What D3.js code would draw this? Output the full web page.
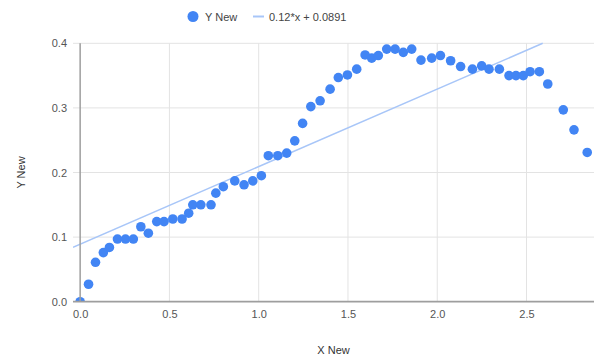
<!DOCTYPE html>
<html>
<head>
<meta charset="utf-8">
<script src="https://cdn.jsdelivr.net/npm/d3@7"></script>
<style>
  html, body { margin: 0; padding: 0; background: #fff; }
  svg { display: block; font-family: "Liberation Sans", Arial, sans-serif; }
</style>
</head>
<body>
<svg id="chart" width="596" height="358"></svg>
<script>
const xValues = [0, 0.047, 0.086, 0.13, 0.164, 0.209, 0.254, 0.298, 0.34, 0.382,
  0.429, 0.47, 0.519, 0.571, 0.608, 0.631, 0.676, 0.733, 0.76, 0.802,
  0.866, 0.918, 0.967, 1.015, 1.054, 1.107, 1.157, 1.202, 1.246, 1.292,
  1.344, 1.4, 1.446, 1.497, 1.549, 1.596, 1.633, 1.67, 1.717, 1.764,
  1.81, 1.857, 1.909, 1.969, 2.018, 2.075, 2.131, 2.197, 2.249, 2.29,
  2.348, 2.402, 2.441, 2.482, 2.52, 2.572, 2.619, 2.706, 2.766, 2.84];
const yValues = [0, 0.027, 0.061, 0.076, 0.084, 0.097, 0.097, 0.097, 0.116, 0.106,
  0.124, 0.124, 0.128, 0.128, 0.137, 0.150, 0.150, 0.150, 0.168, 0.178,
  0.187, 0.181, 0.187, 0.195, 0.226, 0.226, 0.230, 0.249, 0.276, 0.302,
  0.311, 0.329, 0.347, 0.351, 0.360, 0.382, 0.377, 0.381, 0.391, 0.391,
  0.386, 0.391, 0.374, 0.377, 0.381, 0.373, 0.364, 0.360, 0.365, 0.360,
  0.360, 0.350, 0.350, 0.350, 0.356, 0.356, 0.337, 0.297, 0.266, 0.231];
const xTicks = [0, 0.5, 1.0, 1.5, 2.0, 2.5];
const yTicks = [0, 0.1, 0.2, 0.3, 0.4];
const trendSlope = 0.12;
const trendIntercept = 0.0891;
const seriesName = "Y New";
const trendLabel = "0.12*x + 0.0891";
const xTitle = "X New";
const yTitle = "Y New";

const svg = d3.select("#chart");
const pLeft = 73, pRight = 594, pTop = 43.3, pBottom = 301.7;
const x = d3.scaleLinear().domain([-0.04, 2.878]).range([pLeft, pRight]);
const y = d3.scaleLinear().domain([0, 0.4]).range([pBottom, pTop]);
const blue = "#4285f4";

svg.append("defs").append("clipPath").attr("id", "clip")
  .append("rect").attr("x", pLeft).attr("y", pTop - 8).attr("width", pRight - pLeft + 2).attr("height", pBottom - pTop + 8);

// gridlines
const g = svg.append("g");
g.selectAll("line.hg").data(yTicks.filter(d => d !== 0)).enter().append("line")
  .attr("x1", pLeft).attr("x2", pRight)
  .attr("y1", d => y(d)).attr("y2", d => y(d))
  .attr("stroke", "#e3e3e3").attr("stroke-width", 1);
g.selectAll("line.vg").data(xTicks.filter(d => d !== 0)).enter().append("line")
  .attr("y1", pTop).attr("y2", pBottom)
  .attr("x1", d => x(d)).attr("x2", d => x(d))
  .attr("stroke", "#e3e3e3").attr("stroke-width", 1);

// axis tick labels
const yAxis = d3.axisLeft(y).tickValues(yTicks).tickFormat(d3.format(".1f")).tickSize(0).tickPadding(6);
const ya = svg.append("g").attr("transform", `translate(${pLeft},0)`).call(yAxis);
ya.select(".domain").remove();
ya.selectAll("text").attr("fill", "#555").attr("font-size", 11).attr("font-family", "Liberation Sans, Arial, sans-serif");

const xAxis = d3.axisBottom(x).tickValues(xTicks).tickFormat(d3.format(".1f")).tickSize(0).tickPadding(9);
const xa = svg.append("g").attr("transform", `translate(0,${pBottom})`).call(xAxis);
xa.select(".domain").remove();
xa.selectAll("text").attr("fill", "#555").attr("font-size", 11).attr("font-family", "Liberation Sans, Arial, sans-serif");

// trendline
const plot = svg.append("g").attr("clip-path", "url(#clip)");
const tx = x.domain();
const yMax = y.domain()[1];
const xEnd = Math.min(tx[1], (yMax - trendIntercept) / trendSlope);
plot.append("line")
  .attr("x1", x(tx[0])).attr("y1", y(trendSlope * tx[0] + trendIntercept))
  .attr("x2", x(xEnd)).attr("y2", y(trendSlope * xEnd + trendIntercept))
  .attr("stroke", "#a8c6f8").attr("stroke-width", 1.5);

// points
const pts = xValues.map((v, i) => ({x: v, y: yValues[i]}));
plot.append("g").selectAll("circle").data(pts).enter().append("circle")
  .attr("cx", d => x(d.x)).attr("cy", d => y(d.y)).attr("r", 4.8)
  .attr("fill", blue);

// baselines
svg.append("line").attr("x1", x(0)).attr("x2", x(0)).attr("y1", pTop).attr("y2", pBottom)
  .attr("stroke", "#9e9e9e").attr("stroke-width", 1.5);
svg.append("line").attr("x1", pLeft).attr("x2", pRight).attr("y1", y(0)).attr("y2", y(0))
  .attr("stroke", "#9e9e9e").attr("stroke-width", 1.8);

// axis titles
svg.append("text").attr("x", (pLeft + pRight) / 2).attr("y", 354)
  .attr("text-anchor", "middle").attr("font-size", 11).attr("fill", "#333").text(xTitle);
svg.append("text").attr("transform", `translate(25,${(pTop + pBottom) / 2}) rotate(-90)`)
  .attr("text-anchor", "middle").attr("font-size", 11).attr("fill", "#333").text(yTitle);

// legend
const lg = svg.append("g");
lg.append("circle").attr("cx", 193).attr("cy", 16.5).attr("r", 5.5).attr("fill", blue);
lg.append("text").attr("x", 205).attr("y", 20.5).attr("font-size", 11).attr("fill", "#444").text(seriesName);
lg.append("line").attr("x1", 253).attr("x2", 264).attr("y1", 16.5).attr("y2", 16.5)
  .attr("stroke", "#a8c6f8").attr("stroke-width", 2);
lg.append("text").attr("x", 269).attr("y", 20.5).attr("font-size", 11).attr("fill", "#444").text(trendLabel);
</script>
</body>
</html>
